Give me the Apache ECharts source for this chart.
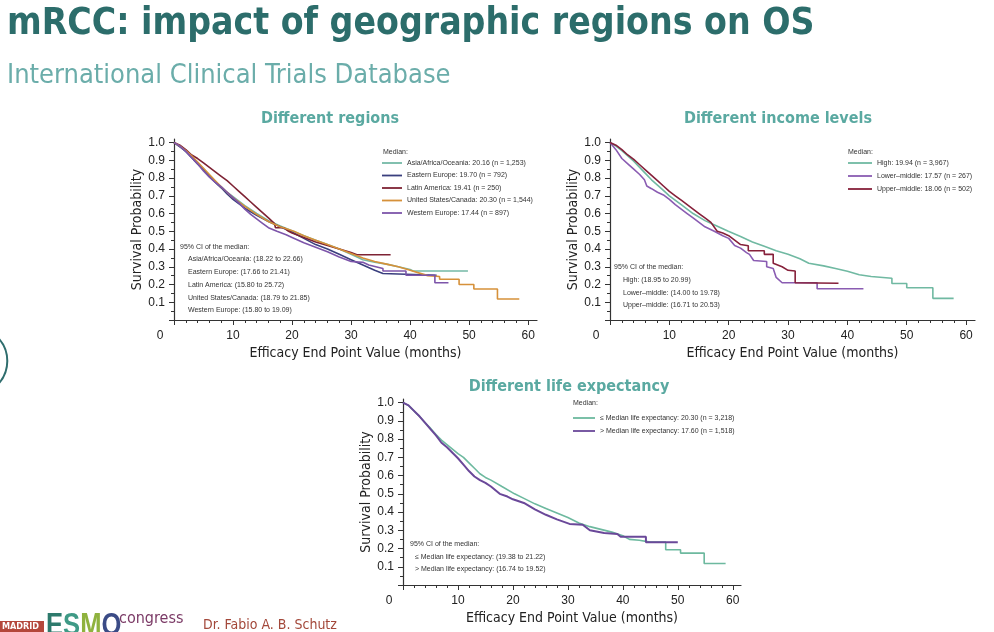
<!doctype html>
<html>
    <head>
        <meta charset="utf-8">
        <style>
            html, body { margin: 0; padding: 0; background: #fff; }
            #main { width: 994px; height: 632px; }
        </style>
    </head>
    <body>
        <div id="main"></div>
        <script src="https://cdn.jsdelivr.net/npm/echarts@6.0.0/dist/echarts.min.js"></script>
        <script>
            // ---- data ----
            var xMajorTicks = [0, 10, 20, 30, 40, 50, 60];
            var xMinorTicks = [2, 4, 6, 8, 12, 14, 16, 18, 22, 24, 26, 28, 32, 34, 36, 38, 42, 44, 46, 48, 52, 54, 56, 58];
            var yMajorTicks = [0, 0.1, 0.2, 0.3, 0.4, 0.5, 0.6, 0.7, 0.8, 0.9, 1.0];
            var yMinorTicks = [0.05, 0.15, 0.25, 0.35, 0.45, 0.55, 0.65, 0.75, 0.85, 0.95];

            // different regions
            var regionNames = [
                'Asia/Africa/Oceania: 20.16 (n = 1,253)',
                'Eastern Europe: 19.70 (n = 792)',
                'Latin America: 19.41 (n = 250)',
                'United States/Canada: 20.30 (n = 1,544)',
                'Western Europe: 17.44 (n = 897)'
            ];
            var regionCI = [
                'Asia/Africa/Oceania: (18.22 to 22.66)',
                'Eastern Europe: (17.66 to 21.41)',
                'Latin America: (15.80 to 25.72)',
                'United States/Canada: (18.79 to 21.85)',
                'Western Europe: (15.80 to 19.09)'
            ];
            var asiaAfricaOceania = [[0, 1], [1, 0.98], [2, 0.95], [3, 0.92], [4, 0.885], [5, 0.85], [6, 0.815], [7, 0.78], [8, 0.75], [9, 0.72], [10, 0.695], [12, 0.645], [14, 0.6], [16, 0.56], [18, 0.53], [20.16, 0.5], [22, 0.475], [24, 0.45], [26, 0.425], [28, 0.4], [30, 0.37], [32, 0.34], [34, 0.325], [36, 0.315], [38, 0.3], [40, 0.285], [40.5, 0.276], [49.8, 0.276]];
            var easternEurope = [[0, 1], [1, 0.975], [2, 0.95], [3, 0.915], [4, 0.88], [5, 0.845], [6, 0.81], [7, 0.775], [8, 0.745], [9, 0.71], [10, 0.68], [12, 0.63], [14, 0.59], [16, 0.555], [18, 0.525], [19.7, 0.5], [22, 0.46], [24, 0.425], [26, 0.4], [28, 0.37], [30, 0.34], [32, 0.31], [34, 0.28], [35.4, 0.262], [35.4, 0.252], [44.5, 0.252]];
            var latinAmerica = [[0, 1], [1, 0.985], [2, 0.96], [3, 0.93], [4, 0.91], [5, 0.885], [6, 0.86], [7, 0.835], [8, 0.81], [9, 0.785], [10, 0.755], [11, 0.725], [12, 0.695], [13, 0.665], [14, 0.635], [15, 0.605], [16, 0.575], [17, 0.545], [17.2, 0.52], [18.6, 0.52], [19.41, 0.5], [20, 0.49], [22, 0.465], [24, 0.44], [26, 0.42], [28, 0.4], [30, 0.38], [31, 0.368], [36.7, 0.368]];
            var usCanada = [[0, 1], [1, 0.98], [2, 0.955], [3, 0.925], [4, 0.89], [5, 0.855], [6, 0.82], [7, 0.785], [8, 0.75], [9, 0.72], [10, 0.69], [12, 0.64], [14, 0.595], [16, 0.555], [18, 0.525], [20.3, 0.5], [22, 0.475], [24, 0.45], [26, 0.425], [28, 0.4], [30, 0.375], [32, 0.35], [34, 0.33], [36, 0.315], [38, 0.3], [40, 0.28], [42, 0.26], [43, 0.25], [45, 0.245], [45, 0.23], [48.3, 0.23], [48.3, 0.2], [50.8, 0.2], [50.8, 0.175], [54.8, 0.175], [54.8, 0.118], [58.5, 0.118]];
            var westernEurope = [[0, 1], [1, 0.98], [2, 0.95], [3, 0.915], [4, 0.88], [5, 0.84], [6, 0.805], [7, 0.775], [8, 0.75], [9, 0.72], [10, 0.69], [11, 0.66], [12, 0.625], [13, 0.595], [14, 0.57], [15, 0.545], [16, 0.52], [17.44, 0.5], [19, 0.48], [20, 0.465], [22, 0.435], [24, 0.41], [26, 0.385], [28, 0.355], [30, 0.33], [32, 0.325], [33, 0.31], [35.4, 0.29], [35.4, 0.276], [39.3, 0.276], [39.3, 0.252], [44.2, 0.252], [44.2, 0.21], [46.5, 0.21]];

            // different income levels
            var incomeNames = [
                'High: 19.94 (n = 3,967)',
                'Lower\u2013middle: 17.57 (n = 267)',
                'Upper\u2013middle: 18.06 (n = 502)'
            ];
            var incomeCI = [
                'High: (18.95 to 20.99)',
                'Lower\u2013middle: (14.00 to 19.78)',
                'Upper\u2013middle: (16.71 to 20.53)'
            ];
            var highIncome = [[0, 1], [1, 0.98], [2, 0.955], [3, 0.925], [4, 0.895], [5, 0.86], [6, 0.825], [7, 0.79], [8, 0.76], [9, 0.73], [10, 0.7], [12, 0.65], [14, 0.6], [16, 0.56], [18, 0.53], [19.94, 0.5], [22, 0.47], [24, 0.44], [26, 0.415], [28, 0.39], [30, 0.37], [32, 0.345], [33.5, 0.32], [36, 0.305], [38, 0.29], [40, 0.275], [42, 0.255], [44, 0.245], [47.5, 0.235], [47.5, 0.206], [50, 0.206], [50, 0.182], [54.4, 0.182], [54.4, 0.122], [57.9, 0.122]];
            var lowerMiddle = [[0, 1], [1, 0.96], [2, 0.91], [3, 0.88], [4, 0.85], [5, 0.82], [5.8, 0.79], [6.2, 0.755], [7, 0.74], [8, 0.72], [9, 0.705], [10, 0.68], [11, 0.65], [12, 0.625], [13, 0.6], [14, 0.575], [15, 0.55], [16, 0.525], [17.57, 0.5], [19, 0.475], [20, 0.46], [21, 0.42], [22, 0.405], [23, 0.38], [23.5, 0.37], [24.2, 0.335], [26.4, 0.33], [26.4, 0.3], [27.5, 0.29], [28, 0.24], [29, 0.21], [34.9, 0.21], [34.9, 0.176], [42.7, 0.176]];
            var upperMiddle = [[0, 1], [1, 0.985], [2, 0.96], [3, 0.93], [4, 0.905], [5, 0.875], [6, 0.845], [7, 0.815], [8, 0.785], [9, 0.755], [10, 0.725], [11, 0.7], [12, 0.675], [13, 0.65], [14, 0.625], [15, 0.6], [16, 0.575], [17, 0.55], [18.06, 0.5], [19, 0.49], [20, 0.475], [21, 0.45], [22, 0.425], [23.3, 0.418], [23.3, 0.39], [26, 0.39], [26, 0.37], [27.5, 0.37], [27.5, 0.32], [29, 0.3], [30, 0.28], [31.2, 0.276], [31.2, 0.21], [38.5, 0.207]];

            // different life expectancy
            var lifeNames = [
                '\u2264 Median life expectancy: 20.30 (n = 3,218)',
                '> Median life expectancy: 17.60 (n = 1,518)'
            ];
            var lifeCI = [
                '\u2264 Median life expectancy: (19.38 to 21.22)',
                '> Median life expectancy: (16.74 to 19.52)'
            ];
            var belowMedianLife = [[0, 1], [1, 0.985], [2, 0.955], [3, 0.925], [4, 0.89], [5, 0.86], [6, 0.825], [7, 0.795], [8, 0.77], [9, 0.745], [10, 0.72], [11, 0.7], [12, 0.67], [13, 0.64], [14, 0.61], [15, 0.59], [16, 0.575], [18, 0.54], [20.3, 0.5], [22, 0.475], [24, 0.445], [26, 0.42], [28, 0.395], [30, 0.37], [32, 0.34], [34, 0.32], [36, 0.305], [38, 0.29], [40, 0.27], [41.2, 0.25], [43, 0.245], [45, 0.235], [47.8, 0.235], [47.8, 0.193], [50.5, 0.193], [50.5, 0.175], [54.8, 0.175], [54.8, 0.118], [58.7, 0.118]];
            var aboveMedianLife = [[0, 1], [1, 0.985], [2, 0.955], [3, 0.925], [4, 0.89], [5, 0.855], [6, 0.82], [7, 0.78], [8, 0.755], [9, 0.725], [10, 0.695], [11, 0.66], [12, 0.625], [13, 0.595], [14, 0.575], [15, 0.56], [16, 0.54], [17.6, 0.5], [19, 0.485], [20, 0.47], [22, 0.45], [24, 0.415], [26, 0.385], [28, 0.36], [30.3, 0.335], [32.7, 0.33], [34, 0.3], [36.6, 0.285], [39, 0.28], [39.6, 0.265], [44.2, 0.265], [44.2, 0.235], [50, 0.235]];

            // ---- look ----
            var narrow = '"Liberation Sans Narrow", "DejaVu Sans Condensed", "Arial Narrow", sans-serif';
            var plain = '"Liberation Sans", Arial, sans-serif';
            var ink = '#222';

            var grids = [
                { left: 174, top: 139, width: 363, height: 181 },
                { left: 610, top: 139, width: 365, height: 181 },
                { left: 403, top: 399, width: 338, height: 186 }
            ];

            var xAxes = [], yAxes = [];
            grids.forEach(function (g, gi) {
                xAxes.push({
                    gridIndex: gi, type: 'value', min: 0, max: 61.5, position: 'bottom',
                    name: 'Efficacy End Point Value (months)', nameLocation: 'middle', nameGap: 26,
                    nameTextStyle: { fontFamily: narrow, fontSize: 14, color: ink },
                    axisLine: { onZero: false, lineStyle: { color: '#333', width: 1.2 } },
                    axisTick: { customValues: xMajorTicks, length: 5, lineStyle: { color: '#333' } },
                    splitLine: { show: false },
                    axisLabel: {
                        customValues: xMajorTicks, margin: 10, fontSize: 12, fontFamily: plain, color: ink,
                        formatter: function (v) { return v === 0 ? '{z|0}' : String(v); },
                        rich: { z: { padding: [0, 28, 0, 0], fontSize: 12, fontFamily: plain, color: ink } }
                    }
                });
                xAxes.push({
                    gridIndex: gi, type: 'value', min: 0, max: 61.5, position: 'bottom',
                    axisLine: { show: false },
                    axisTick: { customValues: xMinorTicks, length: 3, lineStyle: { color: '#333' } },
                    axisLabel: { show: false }, splitLine: { show: false }
                });
                yAxes.push({
                    gridIndex: gi, type: 'value', min: 0, max: 1.02, position: 'left',
                    name: 'Survival Probability', nameLocation: 'middle', nameGap: 30,
                    nameTextStyle: { fontFamily: narrow, fontSize: 14, color: ink },
                    axisLine: { show: true, onZero: false, lineStyle: { color: '#333', width: 1.2 } },
                    axisTick: { show: true, customValues: yMajorTicks, length: 5, lineStyle: { color: '#333' } },
                    splitLine: { show: false },
                    axisLabel: {
                        customValues: yMajorTicks.slice(1), margin: 9, fontSize: 12, fontFamily: plain, color: ink,
                        formatter: function (v) { return v.toFixed(1); }
                    }
                });
                yAxes.push({
                    gridIndex: gi, type: 'value', min: 0, max: 1.02, position: 'left',
                    axisLine: { show: false },
                    axisTick: { show: true, customValues: yMinorTicks, length: 3, lineStyle: { color: '#333' } },
                    axisLabel: { show: false }, splitLine: { show: false }
                });
            });

            function km(name, data, gi, color, width) {
                return {
                    type: 'line', name: name, data: data,
                    xAxisIndex: gi * 2, yAxisIndex: gi * 2,
                    symbol: 'none', showSymbol: false, silent: true,
                    lineStyle: { color: color, width: width || 1.6 },
                    itemStyle: { color: color }
                };
            }

            var series = [
                km(regionNames[0], asiaAfricaOceania, 0, '#74b9a6'),
                km(regionNames[1], easternEurope, 0, '#3a3f7e'),
                km(regionNames[2], latinAmerica, 0, '#7e2334'),
                km(regionNames[3], usCanada, 0, '#d6913a'),
                km(regionNames[4], westernEurope, 0, '#7d55aa'),
                km(incomeNames[0], highIncome, 1, '#70b9a2'),
                km(incomeNames[1], lowerMiddle, 1, '#8a5cb2'),
                km(incomeNames[2], upperMiddle, 1, '#86203a'),
                km(lifeNames[0], belowMedianLife, 2, '#6db99f'),
                km(lifeNames[1], aboveMedianLife, 2, '#6a4899', 2)
            ];

            function legendAt(names, left, top, w, gap) {
                return {
                    data: names, orient: 'vertical', left: left, top: top, padding: 0,
                    icon: 'rect', itemWidth: w, itemHeight: 1.8, itemGap: gap, selectedMode: false,
                    textStyle: { fontSize: 7, fontFamily: plain, color: '#333', lineHeight: 8 }
                };
            }

            function small(text, x, y) {
                return {
                    type: 'text', x: x, y: y, silent: true,
                    style: { text: text, fill: '#333', font: '7px ' + plain, textVerticalAlign: 'middle' }
                };
            }

            var graphics = [];
            graphics.push(small('Median:', 383, 152));
            graphics.push(small('Median:', 848, 152));
            graphics.push(small('Median:', 573, 403));
            graphics.push(small('95% CI of the median:', 180, 247));
            regionCI.forEach(function (t, i) { graphics.push(small(t, 188, 259.5 + i * 12.7)); });
            graphics.push(small('95% CI of the median:', 614, 267));
            incomeCI.forEach(function (t, i) { graphics.push(small(t, 623, 280 + i * 12.7)); });
            graphics.push(small('95% CI of the median:', 410, 544));
            lifeCI.forEach(function (t, i) { graphics.push(small(t, 415, 557 + i * 12.5)); });

            // slide decorations
            graphics.push({
                type: 'circle', silent: true, shape: { cx: -26.6, cy: 361, r: 33.9 },
                style: { fill: 'none', stroke: '#2f6d6d', lineWidth: 2 }
            });
            graphics.push({
                type: 'rect', silent: true, shape: { x: 0, y: 621, width: 44, height: 11 },
                style: { fill: '#b4473b' }
            });
            graphics.push({
                type: 'text', x: 2, y: 627, silent: true,
                style: { text: 'MADRID', fill: '#fff', font: 'bold 9px ' + narrow, textVerticalAlign: 'middle' }
            });
            graphics.push({
                type: 'text', x: 46, y: 610, scaleX: 0.8, silent: true,
                style: {
                    text: '{e|E}{s|S}{m|M}{o|O}',
                    rich: {
                        e: { fill: '#2d7a6c', font: 'bold 32px ' + plain },
                        s: { fill: '#3f9a86', font: 'bold 32px ' + plain },
                        m: { fill: '#8fb23e', font: 'bold 32px ' + plain },
                        o: { fill: '#3b4b86', font: 'bold 32px ' + plain }
                    }
                }
            });
            graphics.push({
                type: 'text', x: 119, y: 619, silent: true,
                style: { text: 'congress', fill: '#7b3a66', font: '16px ' + narrow, textVerticalAlign: 'middle' }
            });
            graphics.push({
                type: 'text', x: 203, y: 625, silent: true,
                style: { text: 'Dr. Fabio A. B. Schutz', fill: '#a3483a', font: '14px ' + narrow, textVerticalAlign: 'middle' }
            });

            var chart = echarts.init(document.getElementById('main'));

            chart.setOption({
                animation: false,
                backgroundColor: '#fff',
                title: [
                    {
                        text: 'mRCC: impact of geographic regions on OS', left: 7, top: 6, padding: 0,
                        textStyle: { fontFamily: narrow, fontWeight: 'bold', fontSize: 37, color: '#2c6d6b' }
                    },
                    {
                        text: 'International Clinical Trials Database', left: 7, top: 62, padding: 0,
                        textStyle: { fontFamily: narrow, fontWeight: 'normal', fontSize: 27, color: '#6badaa' }
                    },
                    {
                        text: 'Different regions', left: 330, top: 111, textAlign: 'center', padding: 0,
                        textStyle: { fontFamily: narrow, fontWeight: 'bold', fontSize: 16, color: '#5aa9a1' }
                    },
                    {
                        text: 'Different income levels', left: 778, top: 111, textAlign: 'center', padding: 0,
                        textStyle: { fontFamily: narrow, fontWeight: 'bold', fontSize: 16, color: '#5aa9a1' }
                    },
                    {
                        text: 'Different life expectancy', left: 569, top: 379, textAlign: 'center', padding: 0,
                        textStyle: { fontFamily: narrow, fontWeight: 'bold', fontSize: 16, color: '#5aa9a1' }
                    }
                ],
                legend: [
                    legendAt(regionNames, 382, 159, 20, 4.5),
                    legendAt(incomeNames, 848, 159, 24, 5),
                    legendAt(lifeNames, 573, 414, 22, 5)
                ],
                grid: grids,
                xAxis: xAxes,
                yAxis: yAxes,
                series: series,
                graphic: graphics
            });

            window.onresize = chart.resize;
        </script>
    </body>
</html>
